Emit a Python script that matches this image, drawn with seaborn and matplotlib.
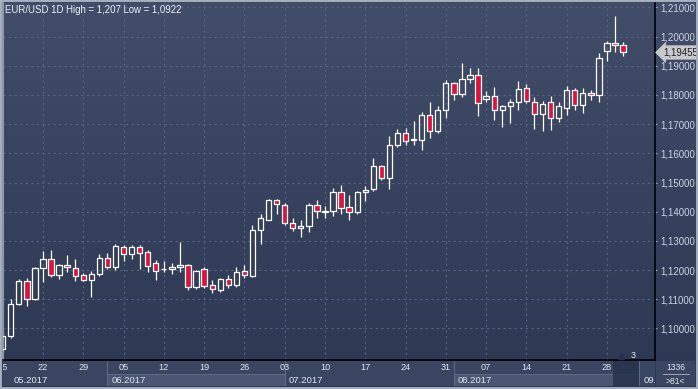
import numpy as np
import pandas as pd
import matplotlib
matplotlib.use("Agg")
import matplotlib.pyplot as plt
import matplotlib.transforms as mtransforms
from matplotlib.colors import LinearSegmentedColormap
from matplotlib.patches import Rectangle
import seaborn as sns

# === DATA: EUR/USD daily candles 15.05.2017 - 30.08.2017 ===
dates = pd.bdate_range("2017-05-15", "2017-08-30")
opens = [1.0928, 1.0974, 1.1083, 1.1162, 1.1101, 1.1208, 1.1239, 1.1183, 1.1218, 1.1208,
         1.1183, 1.1165, 1.1187, 1.1243, 1.1211, 1.1278, 1.1254, 1.1278, 1.1261, 1.1225,
         1.1203, 1.1204, 1.1211, 1.1218, 1.1143, 1.1204, 1.1148, 1.1132, 1.1170, 1.1150,
         1.1198, 1.1181, 1.1338, 1.1373, 1.1440, 1.1423, 1.1363, 1.1345, 1.1352, 1.1423,
         1.1400, 1.1402, 1.1468, 1.1415, 1.1398, 1.1468, 1.1479, 1.1556, 1.1514, 1.1630,
         1.1671, 1.1645, 1.1646, 1.1732, 1.1675, 1.1750, 1.1842, 1.1803, 1.1856, 1.1870,
         1.1785, 1.1796, 1.1750, 1.1761, 1.1775, 1.1824, 1.1777, 1.1736, 1.1775, 1.1722,
         1.1755, 1.1817, 1.1764, 1.1805, 1.1799, 1.1951, 1.1979, 1.1972]
highs = [1.0990, 1.1100, 1.1168, 1.1174, 1.1212, 1.1265, 1.1268, 1.1222, 1.1251, 1.1237,
         1.1190, 1.1197, 1.1254, 1.1258, 1.1289, 1.1285, 1.1285, 1.1285, 1.1268, 1.1236,
         1.1232, 1.1225, 1.1296, 1.1222, 1.1200, 1.1211, 1.1166, 1.1172, 1.1182, 1.1209,
         1.1219, 1.1353, 1.1392, 1.1445, 1.1445, 1.1430, 1.1377, 1.1370, 1.1430, 1.1440,
         1.1418, 1.1482, 1.1490, 1.1458, 1.1472, 1.1487, 1.1584, 1.1560, 1.1660, 1.1685,
         1.1687, 1.1711, 1.1740, 1.1776, 1.1762, 1.1852, 1.1845, 1.1910, 1.1892, 1.1892,
         1.1813, 1.1826, 1.1767, 1.1786, 1.1849, 1.1838, 1.1793, 1.1780, 1.1797, 1.1775,
         1.1829, 1.1825, 1.1825, 1.1818, 1.1945, 1.1986, 1.2070, 1.1982]
lows = [1.0922, 1.0968, 1.1080, 1.1076, 1.1096, 1.1160, 1.1176, 1.1168, 1.1194, 1.1162,
        1.1162, 1.1108, 1.1180, 1.1204, 1.1200, 1.1232, 1.1239, 1.1204, 1.1194, 1.1165,
        1.1194, 1.1187, 1.1194, 1.1132, 1.1136, 1.1139, 1.1122, 1.1126, 1.1140, 1.1143,
        1.1173, 1.1177, 1.1291, 1.1370, 1.1391, 1.1353, 1.1333, 1.1312, 1.1330, 1.1380,
        1.1380, 1.1385, 1.1391, 1.1370, 1.1391, 1.1437, 1.1470, 1.1508, 1.1479, 1.1620,
        1.1629, 1.1629, 1.1611, 1.1651, 1.1670, 1.1720, 1.1784, 1.1792, 1.1841, 1.1727,
        1.1777, 1.1713, 1.1689, 1.1704, 1.1749, 1.1771, 1.1685, 1.1678, 1.1681, 1.1708,
        1.1731, 1.1747, 1.1739, 1.1784, 1.1775, 1.1915, 1.1946, 1.1935]
closes = [1.0974, 1.1083, 1.1162, 1.1101, 1.1208, 1.1239, 1.1183, 1.1218, 1.1211, 1.1180,
          1.1165, 1.1187, 1.1243, 1.1211, 1.1282, 1.1254, 1.1278, 1.1257, 1.1215, 1.1197,
          1.1205, 1.1211, 1.1218, 1.1143, 1.1197, 1.1146, 1.1134, 1.1169, 1.1150, 1.1194,
          1.1183, 1.1338, 1.1377, 1.1440, 1.1426, 1.1363, 1.1345, 1.1352, 1.1423, 1.1401,
          1.1402, 1.1468, 1.1412, 1.1398, 1.1468, 1.1475, 1.1556, 1.1514, 1.1630, 1.1668,
          1.1643, 1.1648, 1.1732, 1.1676, 1.1750, 1.1842, 1.1803, 1.1856, 1.1870, 1.1771,
          1.1796, 1.1750, 1.1761, 1.1775, 1.1820, 1.1778, 1.1736, 1.1768, 1.1722, 1.1761,
          1.1817, 1.1764, 1.1805, 1.1799, 1.1926, 1.1979, 1.1972, 1.19455]

price_ticks = [1.10, 1.11, 1.12, 1.13, 1.14, 1.15, 1.16, 1.17, 1.18, 1.19, 1.20, 1.21]
month_labels = ["05.2017", "06.2017", "07.2017", "08.2017", "09.2017"]
title = "EUR/USD 1D High = 1,207 Low = 1,0922"
last_price = 1.19455
bar_count = "1336"
zoom_text = ">81<"

# === STYLE ===
W, H = 698, 389
BG_TOP, BG_BOTTOM = "#414d69", "#2c3852"
BAND = "#3a4661"
GRID = "#56637f"
TEXT = "#dfe4ee"
RED = "#dc143c"

sns.set_theme(style="dark", rc={"axes.facecolor": "none", "figure.facecolor": BG_BOTTOM})
plt.rcParams["font.family"] = ["Liberation Sans", "DejaVu Sans"]

df = pd.DataFrame({"date": dates, "open": opens, "high": highs,
                   "low": lows, "close": closes})
# the time axis runs a bit past the data (empty space on the right)
axis_days = pd.bdate_range("2017-05-15", "2017-09-08")
pos = {d: i for i, d in enumerate(axis_days)}
df["x"] = df["date"].map(pos)
df["up"] = df["close"] >= df["open"]
df["body_lo"] = df[["open", "close"]].min(axis=1)
df["body_hi"] = df[["open", "close"]].max(axis=1)

xlim = (0.04, 80.96)
ylim = (1.0892, 1.2115)

fig = plt.figure(figsize=(W / 100, H / 100), dpi=100)

# background gradient for the whole panel
bg = fig.add_axes([0, 0, 1, 1])
cmap = LinearSegmentedColormap.from_list("bg", [BG_TOP, BG_BOTTOM])
bg.imshow(np.linspace(0, 1, 256).reshape(-1, 1), cmap=cmap, aspect="auto",
          extent=[0, 1, 0, 1])
bg.set_axis_off()

ax = fig.add_axes([3 / W, 29 / H, 652 / W, 357 / H])
ax.set_xlim(*xlim)
ax.set_ylim(*ylim)

# grid: Mondays and every 0.01
mondays = df.loc[df["date"].dt.weekday == 0, ["date", "x"]]
for xm in mondays["x"]:
    ax.axvline(xm, color=GRID, lw=0.8, ls=(0, (2, 3)), zorder=1)
for p in price_ticks:
    ax.axhline(p, color=GRID, lw=0.8, ls=(0, (2, 3)), zorder=1)

# candles
ax.vlines(df["x"], df["body_hi"], df["high"], color="white", lw=0.9, zorder=2)
ax.vlines(df["x"], df["low"], df["body_lo"], color="white", lw=0.9, zorder=2)
heights = np.maximum(df["body_hi"] - df["body_lo"], 0.00004)
face = np.where(df["up"], "none", RED)
ax.bar(df["x"], heights, bottom=df["body_lo"], width=0.66, color=face,
       edgecolor="white", linewidth=0.9, zorder=3)

# right price axis
ax.yaxis.tick_right()
ax.set_yticks(price_ticks)
ax.set_yticklabels([f"{p:.5f}".replace(".", ",") for p in price_ticks])
ax.tick_params(axis="y", right=True, length=1.5, width=0.8, color="#8aa4cc",
               pad=2.2, labelsize=6.9, labelcolor="#cdd6e6")
ax.set_xticks([])
ax.grid(False)
ax.spines["top"].set_visible(False)
ax.spines["right"].set_color("black")
ax.spines["right"].set_linewidth(1.2)
ax.spines["bottom"].set_color("black")
ax.spines["bottom"].set_linewidth(1.2)
ax.spines["left"].set_color("#8d98ab")
ax.spines["left"].set_linewidth(1.5)

ax.text(0.003, 0.993, title, transform=ax.transAxes, ha="left", va="top",
        fontsize=6.9, color="#eef1f6")

# last price tag
blend = mtransforms.blended_transform_factory(ax.transAxes, ax.transData)
ax.text(1.012, last_price, f"{last_price:.5f}".replace(".", ","), transform=blend,
        ha="left", va="center", fontsize=6.9, color="#1e1e22", clip_on=False,
        bbox=dict(boxstyle="larrow,pad=0.18", fc="#c8c9cc", ec="#c8c9cc", lw=0.5))

# cursor marker at plot bottom
ax.plot([0.948], [0.012], marker="^", ms=5, color="#26304a", transform=ax.transAxes,
        clip_on=False, zorder=4)
ax.text(0.963, 0.012, "3", transform=ax.transAxes, ha="left", va="center",
        fontsize=6.6, color=TEXT)

# === bottom date band ===
band = fig.add_axes([3 / W, 3 / H, 652 / W, 25 / H])
band.set_xlim(*xlim)
band.set_ylim(0, 1)
band.set_facecolor(BAND)
band.set_xticks([])
band.set_yticks([])
for s in band.spines.values():
    s.set_visible(False)

for d, xm in zip(mondays["date"], mondays["x"]):
    band.text(xm, 0.72, d.strftime("%d"), ha="center", va="center", fontsize=6.6,
              color=TEXT, clip_on=True)

month_start = [i for i, d in enumerate(axis_days) if i > 0 and d.month != axis_days[i - 1].month]
edges = [xlim[0] - 20] + month_start + [xlim[1] + 20]
for k, lab in enumerate(month_labels):
    x0, x1 = edges[k], edges[k + 1]
    if k > 0:
        band.plot([x0, x0], [0, 1], color="#5d6985", lw=0.8)
    if k % 2 == 1:
        band.add_patch(Rectangle((x0, 0), x1 - x0, 0.48, fc="#4a5672",
                                 ec="#5d6985", lw=0.7))
    lx = 1.4 if k == 0 else x0 + 0.5
    band.text(lx, 0.22, lab, ha="left", va="center", fontsize=6.8, color=TEXT,
              clip_on=True)

band.add_patch(Rectangle((0.9356, 0), 0.04, 1, transform=band.transAxes,
                         fc="#27314b", alpha=0.85, lw=0))

# corner box
corner = fig.add_axes([656 / W, 3 / H, 39 / W, 25 / H])
corner.set_facecolor(BAND)
corner.set_xlim(0, 1)
corner.set_ylim(0, 1)
corner.set_xticks([])
corner.set_yticks([])
for s in corner.spines.values():
    s.set_visible(False)
corner.text(0.5, 0.76, bar_count, ha="center", va="center", fontsize=6.2, color=TEXT)
corner.plot([0.18, 0.85], [0.5, 0.5], color="#aab3c4", lw=0.6)
corner.text(0.5, 0.2, zoom_text, ha="center", va="center", fontsize=6.2, color=TEXT)

# outer frame
fig.patches.append(Rectangle((0, 0), 1, 1, transform=fig.transFigure, fill=False,
                             ec="#a7b0bf", lw=2.8))

fig.savefig("out.png", dpi=100)
